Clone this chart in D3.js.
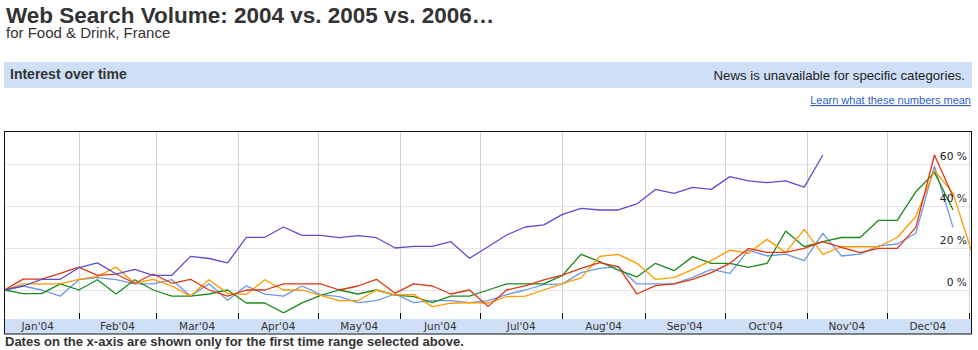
<!DOCTYPE html>
<html>
<head>
<meta charset="utf-8">
<script src="https://cdn.jsdelivr.net/npm/d3@7"></script>
<style>
  body { margin: 0; background: #fff; }
  svg { display: block; }
</style>
</head>
<body>
<div id="chart"></div>
<script>
// Weekly search volume, % change against the first week of January
const seriesNames = ["blue", "red", "orange", "green", "purple"];
const seriesColors = ["#6d97e8", "#dc3912", "#ff9900", "#1c8a1c", "#5a4fcf"];

const blueValues = [0, 1.9, 0, -2.9, 4.9, 5.9, 4.9, 2.9, 2.9, 4.9, -2.9, 3, -4.9, 2, -2, -2.9, 1.9, -2.2,
  -3.2, -6, -5.1, -1.9, -6, -5.1, -5.1, -6, -5.1, -2.2, 0, 2.6, 2.9, 8.3, 10.3, 11.1, 2.9, 2.9,
  2.9, 6, 9.8, 7.9, 19, 16.2, 17.1, 14, 27, 16.2, 17.1, 21, 21.9, 27, 59, 29.8];
const redValues = [0, 5.2, 5.2, 7.9, 10.9, 7, 7.6, 3.2, 7.6, 3.2, 5.1, 0, -2.9, 0, 0, 2.9, 2.9, 2.9,
  0, 1.9, 5.1, -1.5, 2.9, 1.9, -1.9, 0, -7.8, 0, 2, 4.8, 7.1, 10.3, 13, 11.1, -1.9, 2.1,
  2.9, 5.1, 8.3, 12.7, 19.8, 17.9, 17.9, 19.8, 23, 20.3, 17.8, 19.8, 19.8, 29.8, 64.3, 44.5];
const orangeValues = [0, 2.9, 2.9, 2.9, 5.1, 6.5, 10.9, 3.2, 5.1, 1.9, -2.9, 4.9, -1.6, -2.1, 4.9, 0, 0, -2.6,
  -5.1, -5.1, 0, -2.4, -2.1, -7.9, -6.3, -6, -6.2, -3.1, -2.9, 0, 3, 5.8, 16, 17, 12.7, 5.1,
  5.9, 9.8, 14, 19, 17.5, 24.1, 17.8, 28.9, 17, 20.6, 20.6, 20.6, 25, 35, 57, 46, 18.3];
const greenValues = [0, -1.7, -1.7, 2.9, 0, 4.9, -1.9, 4.9, 0, -2.9, -2.9, -1.9, 0, -6.2, -6.2, -10.9, -6.1, -2.6,
  0, -1.9, 0, -2.4, -3.2, -6, -2.9, -2.9, 0, 2.9, 2.9, 2.9, 7, 17, 13.5, 9.5, 6.2, 12.7,
  9.2, 15.9, 12.7, 12.7, 10.8, 12.7, 28.1, 20.6, 23, 25, 25, 33.2, 33.2, 46.8, 56, 38.1];
const purpleValues = [0, 1.9, 5.1, 5.1, 10.6, 12.9, 7.6, 9.8, 7, 7, 16, 15, 12.9, 25.1, 25.1, 30, 26, 26,
  24.9, 25.9, 24.9, 20, 20.8, 20.8, 23, 15.1, 20.6, 26.2, 30, 31, 36, 38.9, 38.1, 38.1, 41, 47.9,
  46, 48.9, 47.9, 54, 52, 51.1, 52, 49, 64.3];

const yTicks = [0, 20, 40, 60];

const titleText = "Web Search Volume: 2004 vs. 2005 vs. 2006\u2026";
const subtitleText = "for Food & Drink, France";
const footnoteText = "Dates on the x-axis are shown only for the first time range selected above.";

// -------------------------------------------------------------------------
// SETUP
// -------------------------------------------------------------------------
const W = 978, H = 350;
const box = { left: 4.5, right: 971.5, top: 131.5, bottom: 334, plotBottom: 313, bandTop: 319 };

const svg = d3.select("#chart").append("svg")
    .attr("width", W)
    .attr("height", H);

const weeks = d3.timeWeek.range(new Date(2004, 0, 4), new Date(2005, 0, 3));
const months = d3.timeMonth.range(new Date(2004, 0, 1), new Date(2005, 0, 2));

const x = d3.scaleTime()
    .domain([new Date(2004, 0, 1), new Date(2005, 0, 1)])
    .range([-3.5, 969]);

const y = d3.scaleLinear()
    .domain([0, 60])
    .range([290, 164]);

// -------------------------------------------------------------------------
// HEADER
// -------------------------------------------------------------------------
svg.append("text")
    .attr("x", 6).attr("y", 23)
    .style("font-family", "'Liberation Sans', Arial, sans-serif")
    .style("font-weight", "bold")
    .style("font-size", "22.5px")
    .attr("fill", "#333")
    .text(titleText);

svg.append("text")
    .attr("x", 6).attr("y", 38)
    .style("font-family", "'Liberation Sans', Arial, sans-serif")
    .style("font-size", "15px")
    .attr("fill", "#333")
    .text(subtitleText);

svg.append("rect")
    .attr("x", 4).attr("y", 62)
    .attr("width", 968).attr("height", 26)
    .attr("fill", "#cfe0f6");

svg.append("text")
    .attr("x", 10).attr("y", 79)
    .style("font-family", "'Liberation Sans', Arial, sans-serif")
    .style("font-weight", "bold")
    .style("font-size", "14px")
    .attr("fill", "#333")
    .text("Interest over time");

svg.append("text")
    .attr("x", 965).attr("y", 80)
    .attr("text-anchor", "end")
    .style("font-family", "'Liberation Sans', Arial, sans-serif")
    .style("font-size", "13.2px")
    .attr("fill", "#222")
    .text("News is unavailable for specific categories.");

svg.append("text")
    .attr("x", 971).attr("y", 104)
    .attr("text-anchor", "end")
    .style("font-family", "'Liberation Sans', Arial, sans-serif")
    .style("font-size", "11px")
    .style("text-decoration", "underline")
    .attr("fill", "#2f5fc4")
    .text("Learn what these numbers mean");

// -------------------------------------------------------------------------
// PLOT AREA
// -------------------------------------------------------------------------
svg.append("clipPath").attr("id", "plot-clip")
    .append("rect")
    .attr("x", box.left).attr("y", box.top)
    .attr("width", box.right - box.left).attr("height", box.plotBottom - box.top);

// horizontal gridlines
svg.append("g").selectAll("line")
    .data(yTicks)
    .join("line")
    .attr("x1", box.left).attr("x2", box.right)
    .attr("y1", d => Math.round(y(d)) + 0.5).attr("y2", d => Math.round(y(d)) + 0.5)
    .attr("stroke", "#e6e6ee");

// vertical gridlines at month boundaries
const monthEdges = months.filter(d => x(d) > box.left && x(d) < box.right);
svg.append("g").selectAll("line")
    .data(monthEdges)
    .join("line")
    .attr("x1", d => Math.round(x(d)) + 0.5).attr("x2", d => Math.round(x(d)) + 0.5)
    .attr("y1", box.top).attr("y2", box.plotBottom)
    .attr("stroke", "#d2d2da");

// series lines
const allSeries = [blueValues, greenValues, orangeValues, redValues, purpleValues];
const allColors = [seriesColors[0], seriesColors[3], seriesColors[2], seriesColors[1], seriesColors[4]];

const line = d3.line()
    .x((d, i) => x(weeks[i]))
    .y(d => y(d));

svg.append("g")
    .attr("clip-path", "url(#plot-clip)")
    .selectAll("path")
    .data(allSeries)
    .join("path")
    .attr("d", d => line(d))
    .attr("fill", "none")
    .attr("stroke", (d, i) => allColors[i])
    .attr("stroke-width", 1.3)
    .attr("stroke-linejoin", "round");

// y labels (drawn over the lines)
svg.append("g").selectAll("text")
    .data(yTicks)
    .join("text")
    .attr("x", 967)
    .attr("y", d => y(d) - 4.5)
    .attr("text-anchor", "end")
    .style("font-family", "'DejaVu Sans', Verdana, sans-serif")
    .style("font-size", "10.7px")
    .attr("fill", "#222")
    .text(d => `${d} %`);

// x axis band
svg.append("rect")
    .attr("x", box.left).attr("y", box.bandTop)
    .attr("width", box.right - box.left).attr("height", box.bottom - box.bandTop)
    .attr("fill", "#cfe0f6");

svg.append("g").selectAll("line")
    .data(monthEdges)
    .join("line")
    .attr("x1", d => Math.round(x(d)) + 0.5).attr("x2", d => Math.round(x(d)) + 0.5)
    .attr("y1", box.plotBottom).attr("y2", box.bandTop)
    .attr("stroke", "#000");

const monthFormat = d3.timeFormat("%b'%y");
svg.append("g").selectAll("text")
    .data(months.slice(0, 12))
    .join("text")
    .attr("x", d => (x(d) + x(d3.timeMonth.offset(d, 1))) / 2)
    .attr("y", 329.5)
    .attr("text-anchor", "middle")
    .style("font-family", "'DejaVu Sans', Verdana, sans-serif")
    .style("font-size", "10.5px")
    .attr("fill", "#333")
    .text(d => monthFormat(d));

// frame
svg.append("rect")
    .attr("x", box.left).attr("y", box.top)
    .attr("width", box.right - box.left).attr("height", box.bottom - box.top)
    .attr("fill", "none")
    .attr("stroke", "#111");

// footnote
svg.append("text")
    .attr("x", 5).attr("y", 346)
    .style("font-family", "'Liberation Sans', Arial, sans-serif")
    .style("font-weight", "bold")
    .style("font-size", "13px")
    .attr("fill", "#333")
    .text(footnoteText);
</script>
</body>
</html>
